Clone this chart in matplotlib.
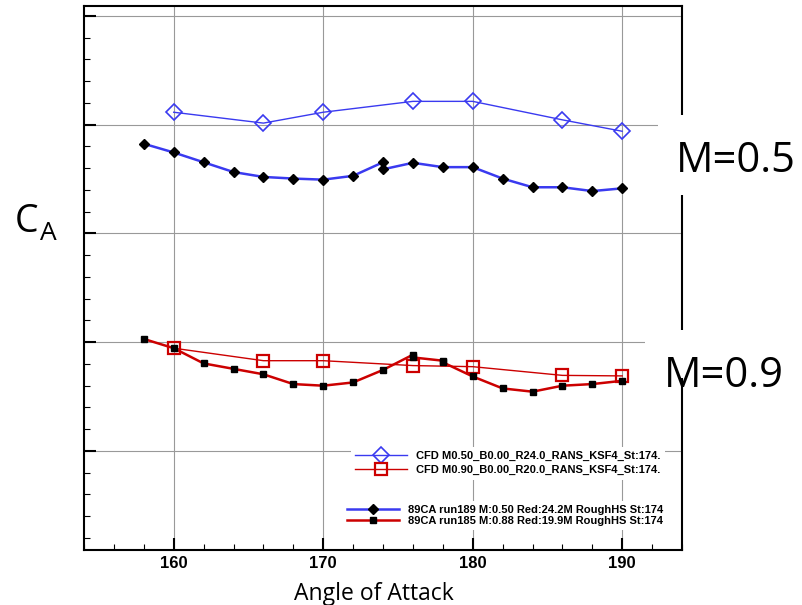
import matplotlib.pyplot as plt
from matplotlib.patches import Rectangle
from matplotlib.ticker import MultipleLocator

# CFD results (open markers)
cfd_aoa = [160, 166, 170, 176, 180, 186, 190]
cfd_m050 = [1.223, 1.203, 1.223, 1.243, 1.243, 1.209, 1.188]
cfd_m090 = [0.789, 0.766, 0.766, 0.757, 0.755, 0.739, 0.738]

# wind tunnel runs (89CA)
run189_aoa = [158, 160, 162, 164, 166, 168, 170, 172, 174, 174, 176, 178,
              180, 182, 184, 186, 188, 190]
run189_ca = [1.165, 1.149, 1.131, 1.113, 1.104, 1.101, 1.099, 1.106, 1.131,
             1.118, 1.130, 1.122, 1.122, 1.101, 1.085, 1.085, 1.078, 1.083]

run185_aoa = [158, 160, 162, 164, 166, 168, 170, 172, 174, 176, 176, 178,
              178, 180, 182, 184, 186, 188, 190]
run185_ca = [0.806, 0.789, 0.761, 0.751, 0.741, 0.723, 0.720, 0.726, 0.749,
             0.777, 0.772, 0.766, 0.763, 0.737, 0.715, 0.709, 0.720, 0.723,
             0.729]

cfd_labels = ["CFD M0.50_B0.00_R24.0_RANS_KSF4_St:174.",
              "CFD M0.90_B0.00_R20.0_RANS_KSF4_St:174."]
run_labels = ["89CA run189 M:0.50 Red:24.2M RoughHS St:174",
              "89CA run185 M:0.88 Red:19.9M RoughHS St:174"]

BLUE = "#3a3af0"
RED = "#cc0000"
W, H = 803, 605


def main():
    fig = plt.figure(figsize=(W / 100, H / 100), dpi=100)
    ax = fig.add_axes([84 / W, (H - 550) / H, 598 / W, 544 / H])

    c1, = ax.plot(cfd_aoa, cfd_m050, color=BLUE, lw=1.0, marker="D", ms=8.5,
                  mfc="none", mec=BLUE, mew=1.2, label=cfd_labels[0], zorder=3)
    c2, = ax.plot(cfd_aoa, cfd_m090, color=RED, lw=1.0, marker="s", ms=8.5,
                  mfc="none", mec=RED, mew=1.6, label=cfd_labels[1], zorder=3)
    r1, = ax.plot(run189_aoa, run189_ca, color=BLUE, lw=1.8, marker="D", ms=4.6,
                  mfc="black", mec="black", label=run_labels[0], zorder=4)
    r2, = ax.plot(run185_aoa, run185_ca, color=RED, lw=1.8, marker="s", ms=4.8,
                  mfc="black", mec="black", label=run_labels[1], zorder=4)

    ax.set_xlim(154, 194)
    ax.set_ylim(0.4178, 1.4184)
    ax.xaxis.set_major_locator(MultipleLocator(10))
    ax.xaxis.set_minor_locator(MultipleLocator(2))
    ax.yaxis.set_major_locator(MultipleLocator(0.2))
    ax.yaxis.set_minor_locator(MultipleLocator(0.04))
    ax.tick_params(which="major", direction="in", length=8.5, width=1.5,
                   top=False, right=False, labelleft=False, pad=4)
    ax.tick_params(which="minor", direction="in", length=4.5, width=0.8,
                   top=False, right=False)
    for lab in ax.get_xticklabels():
        lab.set_fontfamily("Liberation Sans")
        lab.set_fontweight("bold")
        lab.set_fontsize(12)
    ax.grid(True, which="major", color="#999999", lw=0.8)
    ax.set_axisbelow(True)
    for sp in ax.spines.values():
        sp.set_linewidth(1.5)

    leg_font = {"family": "Liberation Sans", "weight": "bold", "size": 8}
    leg1 = ax.legend(handles=[c1, c2], loc="upper left",
                     bbox_to_anchor=(350.6 / W, (H - 446.6) / H),
                     bbox_transform=fig.transFigure, prop=leg_font,
                     frameon=True, fancybox=False, edgecolor="none",
                     framealpha=1, borderpad=0.4, borderaxespad=0,
                     handlelength=4.7, handletextpad=0.8, labelspacing=0.35)
    ax.add_artist(leg1)
    ax.legend(handles=[r1, r2], loc="upper left",
              bbox_to_anchor=(342.6 / W, (H - 500.6) / H),
              bbox_transform=fig.transFigure, prop=leg_font,
              frameon=True, fancybox=False, edgecolor="none",
              framealpha=1, borderpad=0.4, borderaxespad=0,
              handlelength=4.7, handletextpad=0.8, labelspacing=0.05)

    # white boxes behind the Mach labels, they cut the right frame
    fig.add_artist(Rectangle((658 / W, (H - 195) / H), (W - 658) / W, 80 / H,
                             transform=fig.transFigure, facecolor="white",
                             edgecolor="none", zorder=5))
    fig.add_artist(Rectangle((645 / W, (H - 378) / H), (W - 645) / W, 48 / H,
                             transform=fig.transFigure, facecolor="white",
                             edgecolor="none", zorder=5))
    fig.text(676 / W, (H - 172) / H, "M=0.5", fontsize=30, family="Open Sans",
             ha="left", va="baseline", zorder=6)
    fig.text(664 / W, (H - 387) / H, "M=0.9", fontsize=30, family="Open Sans",
             ha="left", va="baseline", zorder=6)

    fig.text(15 / W, (H - 232) / H, "C", fontsize=27, family="Open Sans",
             ha="left", va="baseline")
    fig.text(40 / W, (H - 240) / H, "A", fontsize=19, family="Open Sans",
             ha="left", va="baseline")
    fig.text(374 / W, 5 / H, "Angle of Attack", fontsize=16.5,
             family="Open Sans", ha="center", va="baseline")

    fig.savefig("out.png", dpi=100)


if __name__ == "__main__":
    main()
